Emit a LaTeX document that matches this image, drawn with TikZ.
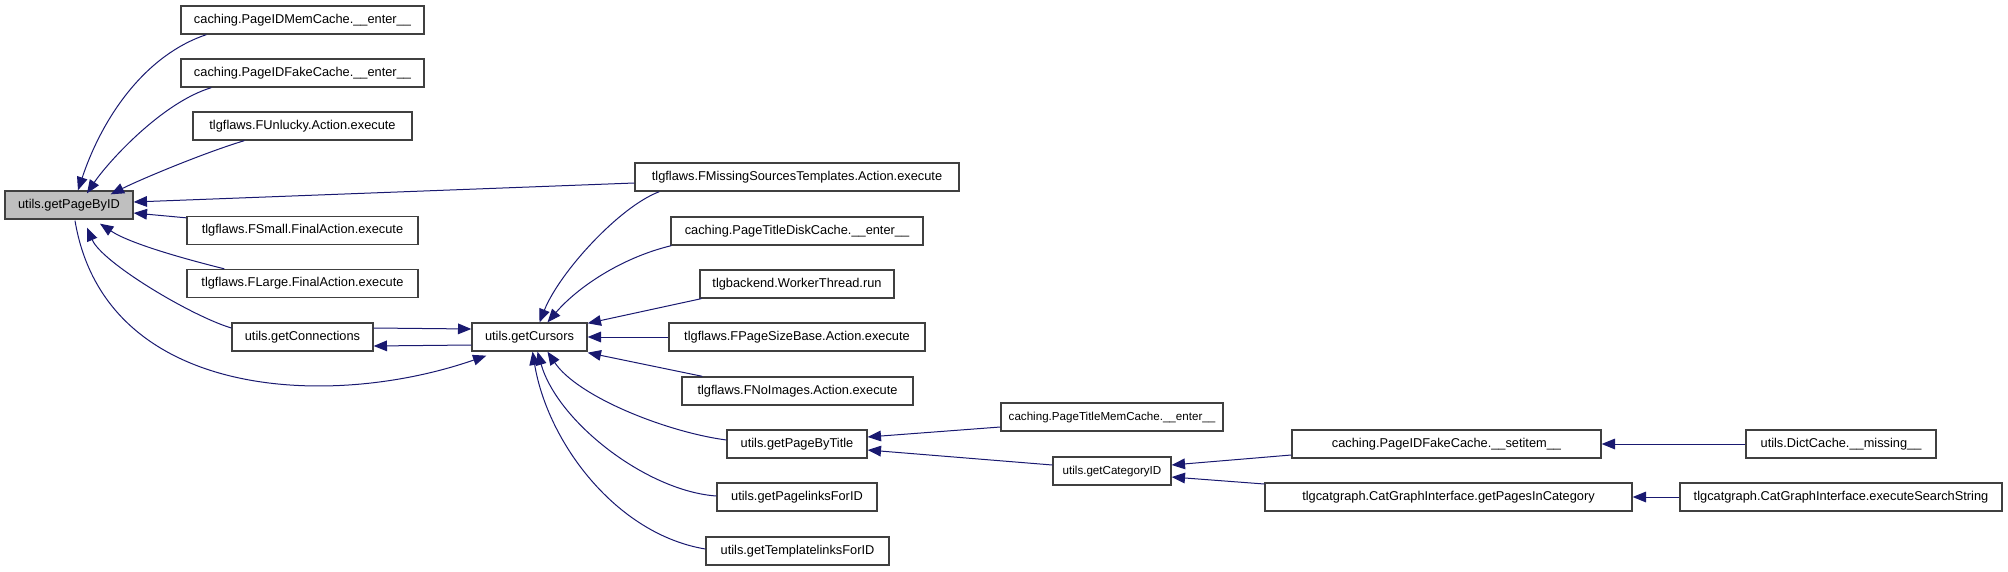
\documentclass[tikz,border=0pt]{standalone}
\usepackage{fontspec}
\setmainfont{Liberation Sans}
\usetikzlibrary{arrows.meta,calc}
\definecolor{edgeblue}{HTML}{191970}
\definecolor{boxgray}{HTML}{BFBFBF}

\begin{document}
\begin{tikzpicture}[x=0.75pt,y=-0.75pt,
  fn/.style={rectangle,draw=black!75,line width=1pt,fill=white,minimum height=21pt,
             inner sep=0pt,font=\fontsize{9.6}{11}\selectfont,minimum width=0.75pt*#1},
  tight/.style={font=\fontsize{8.7}{10}\selectfont},
  call/.style={draw=edgeblue,line width=0.75pt,-{Triangle[length=10pt,width=8pt]}}]
\useasboundingbox (0,0) rectangle (2008,571);

% left column
\node[fn=128,fill=boxgray] (pid) at (69,205) {utils.getPageByID};
\node[fn=243] (memc) at (302.5,20) {caching.PageIDMemCache.\_\_enter\_\_};
\node[fn=243] (fakec) at (302.5,73) {caching.PageIDFakeCache.\_\_enter\_\_};
\node[fn=219] (unlucky) at (302.5,126) {tlgflaws.FUnlucky.Action.execute};
\node[fn=231] (fsmall) at (302.5,230.5) {tlgflaws.FSmall.FinalAction.execute};
\node[fn=231] (flarge) at (302.5,283.5) {tlgflaws.FLarge.FinalAction.execute};
\node[fn=141] (conn) at (302.5,337) {utils.getConnections};
\node[fn=115] (cursors) at (529.5,337) {utils.getCursors};

% middle column
\node[fn=324] (fmst) at (797,177) {tlgflaws.FMissingSourcesTemplates.Action.execute};
\node[fn=252] (diskc) at (797,231) {caching.PageTitleDiskCache.\_\_enter\_\_};
\node[fn=194] (worker) at (797,284) {tlgbackend.WorkerThread.run};
\node[fn=256] (fpsb) at (797,337) {tlgflaws.FPageSizeBase.Action.execute};
\node[fn=231] (noimg) at (797.5,391) {tlgflaws.FNoImages.Action.execute};
\node[fn=140] (bytitle) at (797,444) {utils.getPageByTitle};
\node[fn=160] (plinks) at (797,497) {utils.getPagelinksForID};
\node[fn=183] (tlinks) at (797.5,551) {utils.getTemplatelinksForID};

% right columns
\node[fn=222,tight] (tmemc) at (1112,417) {caching.PageTitleMemCache.\_\_enter\_\_};
\node[fn=118,tight] (catid) at (1112,471) {utils.getCategoryID};
\node[fn=309] (setitem) at (1446.5,444) {caching.PageIDFakeCache.\_\_setitem\_\_};
\node[fn=367] (pagesincat) at (1448.5,497) {tlgcatgraph.CatGraphInterface.getPagesInCategory};
\node[fn=190] (missing) at (1841,444) {utils.DictCache.\_\_missing\_\_};
\node[fn=322] (search) at (1841,497) {tlgcatgraph.CatGraphInterface.executeSearchString};

% callers of getPageByID
\draw[call] ($(memc.south west)+(26,0)$) .. controls +(-60,20) and +(25,-75) .. ($(pid.north)+(9,0)$);
\draw[call] ($(fakec.south west)+(31,0)$) .. controls +(-50,15) and +(20,-30) .. ($(pid.north)+(18,3)$);
\draw[call] ($(unlucky.south west)+(52,0)$) .. controls +(-40,12) and +(30,-15) .. ($(pid.north east)+(-23,4)$);
\draw[call] ($(fmst.west)+(0,6)$) -- ($(pid.east)+(0,-3)$);
\draw[call] ($(fsmall.north west)+(0,2)$) -- ($(pid.east)+(0,8)$);
\draw[call] ($(flarge.north west)+(38,0)$) .. controls +(-40,-10) and +(30,20) .. ($(pid.south)+(31,4)$);
\draw[call] ($(conn.west)+(0,-9)$) .. controls +(-40,-12) and +(15,35) .. ($(pid.south)+(18,8)$);
\draw[call] ($(pid.south)+(6,1)$) .. controls (105,400) and (330,410) .. ($(cursors.south west)+(15,4)$);

% getConnections / getCursors
\draw[call] ($(conn.east)+(0,-9)$) -- ($(cursors.west)+(0,-8)$);
\draw[call] ($(cursors.west)+(0,8)$) -- ($(conn.east)+(0,9)$);

% callers of getCursors
\draw[call] ($(fmst.south west)+(25,0)$) .. controls +(-40,15) and +(20,-50) .. ($(cursors.north)+(10,0)$);
\draw[call] ($(diskc.south west)+(1,0)$) .. controls +(-50,12) and +(30,-35) .. ($(cursors.north)+(18,0)$);
\draw[call] ($(worker.south west)+(2,0)$) -- ($(cursors.north east)+(0,1)$);
\draw[call] (fpsb.west) -- (cursors.east);
\draw[call] ($(noimg.north west)+(21,0)$) -- ($(cursors.south east)+(0,1)$);
\draw[call] ($(bytitle.west)+(0,-4)$) .. controls +(-60,-8) and +(30,45) .. ($(cursors.south)+(18,0)$);
\draw[call] ($(plinks.west)+(0,-1)$) .. controls +(-70,-5) and +(20,70) .. ($(cursors.south)+(8,0)$);
\draw[call] ($(tlinks.west)+(0,-2)$) .. controls +(-90,-15) and +(15,90) .. ($(cursors.south)+(3,0)$);

% right part
\draw[call] ($(tmemc.west)+(0,10)$) -- ($(bytitle.east)+(0,-7)$);
\draw[call] ($(catid.west)+(0,-6)$) -- ($(bytitle.east)+(0,6)$);
\draw[call] ($(setitem.west)+(0,11)$) -- ($(catid.east)+(0,-6)$);
\draw[call] ($(pagesincat.west)+(0,-13)$) -- ($(catid.east)+(0,6)$);
\draw[call] (missing.west) -- (setitem.east);
\draw[call] (search.west) -- (pagesincat.east);
\end{tikzpicture}
\end{document}
